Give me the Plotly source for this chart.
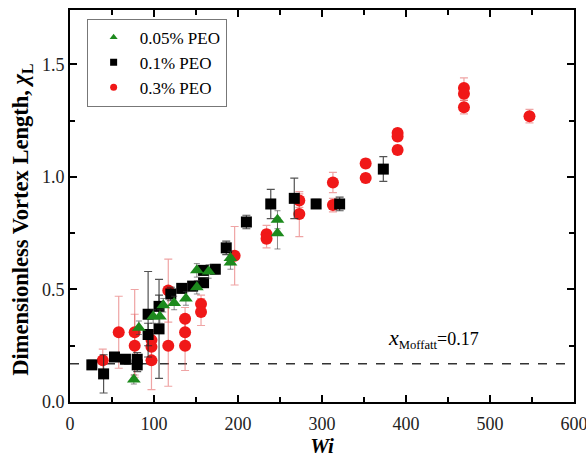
import plotly.graph_objects as go

# Wi and dimensionless vortex length for three PEO concentrations
wi_005 = [76, 82, 99, 107, 111, 124, 138, 151, 151, 165, 191, 191, 247, 247]
xl_005 = [0.10, 0.33, 0.38, 0.38, 0.43, 0.44, 0.46, 0.51, 0.585, 0.58, 0.64, 0.62, 0.81, 0.75]
err_005 = [0.02, 0.03, 0.03, 0.03, 0.03, 0.03, 0.03, 0.03, 0.03, 0.03, 0.03, 0.03, 0.04, 0.07]

wi_01 = [26, 40, 53, 66, 80, 80, 93, 93, 106, 106, 120, 133, 146, 159, 159, 173, 186, 210, 239, 267, 293, 321, 373]
xl_01 = [0.165, 0.125, 0.20, 0.19, 0.19, 0.165, 0.30, 0.39, 0.325, 0.425, 0.48, 0.505, 0.515, 0.53, 0.585,
         0.59, 0.685, 0.80, 0.88, 0.905, 0.88, 0.88, 1.035]
err_01 = [0.02, 0.085, 0.02, 0.02, 0.03, 0.03, 0.05, 0.19, 0.22, 0.05, 0.03, 0.02, 0.02, 0.02, 0.02,
          0.02, 0.03, 0.03, 0.065, 0.09, 0.02, 0.03, 0.055]

wi_03 = [39, 58, 77, 77, 97, 97, 97, 117, 117, 137, 137, 137, 156, 156, 196, 234, 234,
         273, 273, 313, 313, 352, 352, 390, 390, 390, 469, 469, 469, 547]
xl_03 = [0.185, 0.31, 0.31, 0.25, 0.275, 0.245, 0.185, 0.495, 0.25, 0.37, 0.31, 0.25, 0.435, 0.40,
         0.65, 0.745, 0.725, 0.895, 0.835, 0.975, 0.875, 1.06, 0.995, 1.195, 1.18, 1.12,
         1.395, 1.37, 1.31, 1.27]
err_03 = [0.05, 0.16, 0.19, 0.14, 0.04, 0.06, 0.13, 0.14, 0.18, 0.05, 0.05, 0.11, 0.04, 0.06,
          0.13, 0.04, 0.04, 0.03, 0.10, 0.045, 0.03, 0.02, 0.02, 0.02, 0.02, 0.02,
          0.045, 0.03, 0.03, 0.03]

series_names = ["0.05% PEO", "0.1% PEO", "0.3% PEO"]
moffatt = 0.17

FONT = "Liberation Serif"
GREEN = "#1d8a1d"
RED = "#f01818"

fig = go.Figure()

# Moffatt reference line
fig.add_trace(go.Scatter(x=[0, 600], y=[moffatt, moffatt], mode="lines",
                         line=dict(color="#333333", width=1.3, dash="dash"),
                         showlegend=False, hoverinfo="skip"))

fig.add_trace(go.Scatter(
    x=wi_03, y=xl_03, mode="markers", showlegend=False,
    marker=dict(symbol="circle", size=12, color=RED),
    error_y=dict(type="data", array=err_03, color="rgba(225,90,90,0.55)", thickness=1.2, width=4)))

fig.add_trace(go.Scatter(
    x=wi_01, y=xl_01, mode="markers", showlegend=False,
    marker=dict(symbol="square", size=11, color="black"),
    error_y=dict(type="data", array=err_01, color="rgba(40,40,40,0.8)", thickness=1.2, width=4)))

fig.add_trace(go.Scatter(
    x=wi_005, y=xl_005, mode="markers", showlegend=False,
    marker=dict(symbol="triangle-up", size=12, color=GREEN),
    error_y=dict(type="data", array=err_005, color="rgba(60,60,60,0.6)", thickness=1.0, width=3)))

# Legend entries with small symbols
for name, sym, col in zip(series_names, ["triangle-up", "square", "circle"], [GREEN, "black", RED]):
    fig.add_trace(go.Scatter(x=[None], y=[None], mode="markers", name=name,
                             marker=dict(symbol=sym, size=7, color=col)))

fig.add_annotation(x=433, y=0.283, xref="x", yref="y", showarrow=False,
                   text="<i><span style='font-size:22px'>x</span></i><sub>Moffatt</sub>=0.17",
                   font=dict(family=FONT, size=18, color="black"))

# Vertical axis title
fig.add_annotation(x=-0.095, y=0.465, xref="paper", yref="paper", showarrow=False,
                   textangle=-90, xanchor="center", yanchor="middle",
                   text="<b>Dimensionless Vortex Length, <i>χ</i><sub>L</sub></b>",
                   font=dict(family=FONT, size=22.5, color="black"))

axis_common = dict(showline=True, linecolor="black", linewidth=2, mirror="ticks",
                   ticks="inside", ticklen=7, tickwidth=2, tickcolor="black",
                   showgrid=False, zeroline=False, ticklabeloverflow="allow", automargin=False,
                   tickfont=dict(family=FONT, size=18, color="#222222"))

fig.update_xaxes(range=[0, 600], tickvals=[0, 100, 200, 300, 400, 500, 600],
                 minor=dict(ticks="inside", dtick=50, ticklen=5, tickwidth=2, tickcolor="black"),
                 title=dict(text="<b><i>Wi</i></b>", font=dict(family=FONT, size=21, color="black"), standoff=6),
                 ticklabelstandoff=4,
                 **axis_common)
fig.update_yaxes(range=[0, 1.742], dtick=0.5, tick0=0, tickformat=".1f",
                 minor=dict(ticks="inside", dtick=0.25, ticklen=5, tickwidth=2, tickcolor="black"),
                 **axis_common)

fig.update_layout(
    width=586, height=459,
    margin=dict(l=70, r=12, t=10, b=57, autoexpand=False),
    paper_bgcolor="white", plot_bgcolor="white",
    font=dict(family=FONT),
    legend=dict(x=0.033, y=0.978, xanchor="left", yanchor="top",
                bgcolor="white", bordercolor="#777777", borderwidth=1,
                font=dict(family=FONT, size=17, color="black"),
                tracegroupgap=0, itemwidth=42),
)

fig.write_html("out.html")
